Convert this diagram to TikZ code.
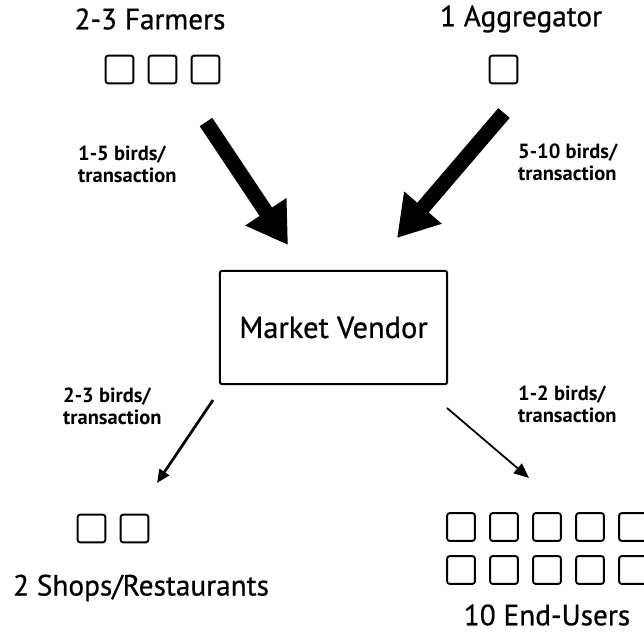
\documentclass[tikz,border=0pt]{standalone}
\usepackage{fontspec}
\setmainfont{PT Sans}
\newfontfamily\heavyfont[FakeBold=0.7]{PT Sans}
\usetikzlibrary{arrows.meta}

\tikzset{
	coop/.style={draw, line width=1.6pt, rounded corners=2pt, minimum size=0.83cm, inner sep=0pt},
	group/.style={font=\heavyfont\fontsize{25}{28}\selectfont, inner sep=1pt},
	rate/.style={font=\bfseries\fontsize{17.5}{19}\selectfont, align=left, anchor=west, inner sep=0pt},
	bigflow/.style={line width=0.45cm, -{Triangle[length=1.2cm, width=1.4cm]}},
	smallflow/.style={line width=2.3pt, -{Triangle[length=0.4cm, width=0.34cm]}},
	thinflow/.style={line width=1.5pt, -{Triangle[length=0.45cm, width=0.38cm]}}
}

\begin{document}
\begin{tikzpicture}[x=0.03cm, y=-0.03cm]
		\useasboundingbox (0,0) rectangle (644,633);

		% suppliers
		\node[group] (farmers) at (150,19) {2-3 Farmers};
		\foreach \i in {1,2,3}
			\node[coop] (farmer\i) at (76.5+43*\i,69.5) {};

		\node[group] (aggregator) at (521,19) {1 Aggregator};
		\node[coop] (agg1) at (503.5,69.5) {};

		% vendor
		\node[draw, line width=1.7pt, rounded corners=2pt, minimum width=6.82cm, minimum height=3.4cm,
			font=\heavyfont\fontsize{26}{30}\selectfont] (vendor) at (333.5,327.5) {Market Vendor};

		% buyers
		\foreach \i in {1,2}
			\node[coop] (shop\i) at (48.5+43*\i,528.5) {};
		\node[group] (shops) at (141,588) {2 Shops/Restaurants};

		\foreach \i in {1,...,5} {
			\node[coop] (user\i) at (418+43*\i,527) {};
			\node[coop] (user\i b) at (418+43*\i,570) {};
		}
		\node[group] (users) at (547,615) {10 End-Users};

		% arrow ends
		\coordinate (farmout) at (206,122);
		\coordinate (farmin) at (288,245);
		\coordinate (aggout) at (504,113);
		\coordinate (aggin) at (397,238);
		\coordinate (shopout) at (213,400);
		\coordinate (shopin) at (157,483);
		\coordinate (userout) at (447,408);
		\coordinate (userin) at (529,478);

		\draw[bigflow] (farmout) -- (farmin);
		\draw[bigflow] (aggout) -- (aggin);
		\draw[smallflow] (shopout) -- (shopin);
		\draw[thinflow] (userout) -- (userin);

		\node[rate] (rate1) at (78,164) {1-5 birds/\\transaction};
		\node[rate] (rate2) at (518,162) {5-10 birds/\\transaction};
		\node[rate] (rate3) at (63,406) {2-3 birds/\\transaction};
		\node[rate] (rate4) at (518,404) {1-2 birds/\\transaction};

	\end{tikzpicture}
\end{document}
